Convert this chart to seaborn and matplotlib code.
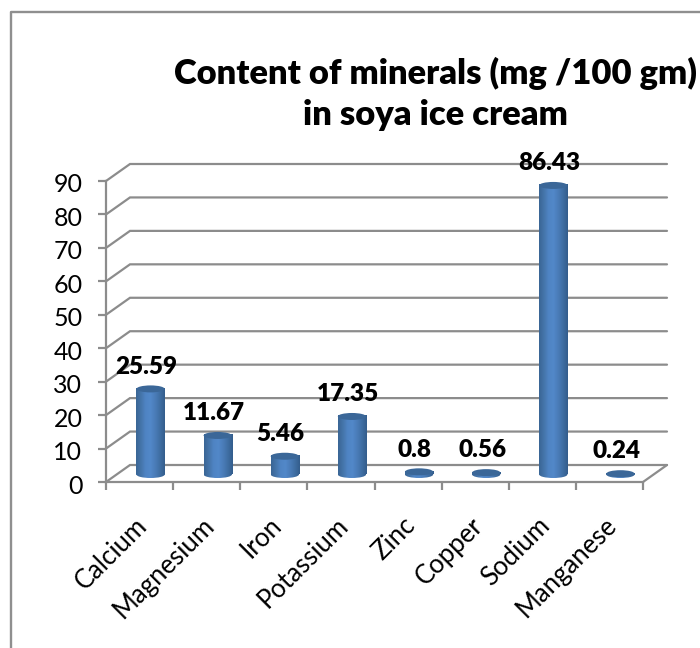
import numpy as np
import matplotlib
matplotlib.use("Agg")
import matplotlib.pyplot as plt
from matplotlib.lines import Line2D
from matplotlib.patches import Ellipse
from matplotlib.colors import LinearSegmentedColormap
from matplotlib.transforms import ScaledTranslation
import seaborn as sns
import pandas as pd

categories = ["Calcium", "Magnesium", "Iron", "Potassium", "Zinc", "Copper", "Sodium", "Manganese"]
values = [25.59, 11.67, 5.46, 17.35, 0.8, 0.56, 86.43, 0.24]
value_labels = ["25.59", "11.67", "5.46", "17.35", "0.8", "0.56", "86.43", "0.24"]
y_ticks = [0, 10, 20, 30, 40, 50, 60, 70, 80, 90]
title = "Content of minerals (mg /100 gm)\nin soya ice cream"

W, H = 700, 648
GREY = "#8c8c8c"
sns.set_style("white")
plt.rcParams["font.family"] = ["Lato", "DejaVu Sans"]
fig = plt.figure(figsize=(W / 100, H / 100), dpi=100, facecolor="white")


def rect(x0, x1, ytop, ybot):
    return [x0 / W, 1 - ybot / H, (x1 - x0) / W, (ybot - ytop) / H]


# Front plane of the chart
ax = fig.add_axes(rect(106, 643, 181, 482))
ax.set_xlim(-0.5, 7.5)
ax.set_ylim(0, 90)
ppx = 8 / (643 - 106)      # data units per pixel, x
ppy = 90 / (482 - 181)     # data units per pixel, y
dx, dy = 24 * ppx, 17 * ppy  # depth of the 3D box

for s in ["top", "right"]:
    ax.spines[s].set_visible(False)
for s in ["left", "bottom"]:
    ax.spines[s].set_color(GREY)
    ax.spines[s].set_linewidth(1.6)

for v in y_ticks:
    ax.plot([-0.5, -0.5 + dx, 7.5 + dx], [v, v + dy, v + dy], color=GREY, lw=1.6,
            clip_on=False, zorder=1, solid_joinstyle="miter")
ax.plot([7.5, 7.5 + dx], [0, dy], color=GREY, lw=1.6, clip_on=False, zorder=1)

ax.set_yticks(y_ticks)
ax.set_xticks(range(len(categories)))
ax.set_xticklabels(categories, rotation=45, ha="right", rotation_mode="anchor")
ax.set_xticks(np.arange(-0.5, 8), minor=True)
ax.tick_params(axis="x", which="major", length=0, pad=22, labelsize=18.5, labelcolor="black")
ax.tick_params(axis="x", which="minor", length=6, width=1.6, color=GREY, bottom=True)
ax.tick_params(axis="y", length=6, width=1.6, color=GREY, left=True, pad=11, labelsize=18, labelcolor="black")
shift_x = ScaledTranslation(-5 / 100, 0, fig.dpi_scale_trans)
for lab in ax.get_xticklabels():
    lab.set_transform(lab.get_transform() + shift_x)
shift_y = ScaledTranslation(0, -2 / 100, fig.dpi_scale_trans)
for lab in ax.get_yticklabels():
    lab.set_transform(lab.get_transform() + shift_y)

# Cylinders sit inside the box: same scales, shifted axes
bx = fig.add_axes(rect(106 + 11, 643 + 11, 181 - 7.5, 482 - 7.5))
bx.patch.set_alpha(0)
df = pd.DataFrame({"mineral": categories, "value": values})
sns.barplot(data=df, x="mineral", y="value", ax=bx, color="#4f81bd", width=0.42,
            saturation=1, order=categories)
bx.set_xlim(-0.5, 7.5)
bx.set_ylim(0, 90)
bx.axis("off")

cmap = LinearSegmentedColormap.from_list(
    "cyl", ["#3a6595", "#4575aa", "#4f84c4", "#5288c9", "#4a7cb8", "#3f6ea3", "#345d8c"])
grad = np.linspace(0, 1, 64).reshape(1, -1)
eh = 7 * ppy

for bar, label in zip(bx.patches, value_labels):
    x0, w, h = bar.get_x(), bar.get_width(), bar.get_height()
    xc = x0 + w / 2
    bar.set_clip_on(False)
    bar.set_edgecolor("none")
    im = bx.imshow(grad, extent=(x0, x0 + w, 0, h), cmap=cmap, aspect="auto", zorder=3)
    im.set_clip_path(bar)
    im.set_clip_box(fig.bbox)
    base = Ellipse((xc, 0), w, eh, facecolor="none", edgecolor="none", zorder=3, clip_on=False)
    bx.add_patch(base)
    im2 = bx.imshow(grad, extent=(x0, x0 + w, -eh, eh), cmap=cmap, aspect="auto", zorder=3)
    im2.set_clip_path(base)
    im2.set_clip_box(fig.bbox)
    top = Ellipse((xc, h), w, eh, facecolor="#3b6798", edgecolor="none", zorder=4, clip_on=False)
    bx.add_patch(top)
    bx.annotate(label, (xc, h), xytext=(-3, 16), textcoords="offset points", ha="center",
                va="center", fontsize=17.5, fontweight="heavy", color="black",
                annotation_clip=False, zorder=5)
bx.set_xlim(-0.5, 7.5)
bx.set_ylim(0, 90)

fig.text(435 / W, 1 - 94 / H, title, ha="center", va="center", fontsize=24.8, fontweight="heavy",
         color="black", linespacing=1.35)

# Chart frame
fig.add_artist(Line2D([11 / W, 11 / W, 1], [0, 1 - 12 / H, 1 - 12 / H], color="#8f8f8f", lw=1.7))

fig.savefig("out.png", dpi=100)
